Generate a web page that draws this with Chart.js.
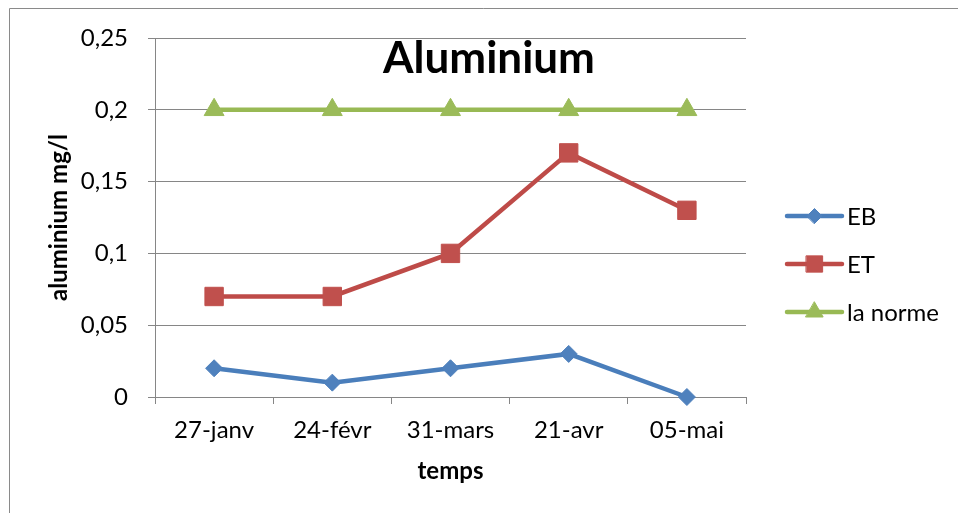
<!DOCTYPE html>
<html>
<head>
<meta charset="utf-8">
<script src="https://cdn.jsdelivr.net/npm/chart.js@4/dist/chart.umd.min.js"></script>
<style>
  html, body { margin: 0; padding: 0; background: #fff; }
  canvas { display: block; }
</style>
</head>
<body>
<canvas id="c" width="958" height="513"></canvas>
<script>
// Sampling dates
const categories = ['27-janv', '24-févr', '31-mars', '21-avr', '05-mai'];
// Aluminium concentrations (mg/l)
const ebValues = [0.02, 0.01, 0.02, 0.03, 0];
const etValues = [0.07, 0.07, 0.10, 0.17, 0.13];
const normeValues = [0.2, 0.2, 0.2, 0.2, 0.2];
// Y axis tick labels (French decimal comma)
const yTickLabels = ['0', '0,05', '0,1', '0,15', '0,2', '0,25'];

const FONT = 'Lato, "Open Sans", sans-serif';
const GRID = '#868686';

const series = [
  { label: 'EB', data: ebValues, line: '#4A7EBB', fill: '#4F81BD', style: 'rectRot', r: 8.5, lr: 7.5 },
  { label: 'ET', data: etValues, line: '#BE4B48', fill: '#C0504D', style: 'rect', r: 13, lr: 11.5 },
  { label: 'la norme', data: normeValues, line: '#98B954', fill: '#9BBB59', style: 'triangle', r: 11.5, lr: 10 }
];

// Outer frame of the chart
const framePlugin = {
  id: 'frame',
  beforeDraw(chart) {
    const ctx = chart.ctx;
    ctx.save();
    ctx.strokeStyle = '#8a8a8a';
    ctx.lineWidth = 1;
    ctx.beginPath();
    ctx.moveTo(9.5, 513);
    ctx.lineTo(9.5, 8.5);
    ctx.lineTo(958, 8.5);
    ctx.stroke();
    ctx.restore();
  }
};

// Chart title drawn over the plot area, plus a line+marker legend on the right
const titleLegendPlugin = {
  id: 'titleLegend',
  afterDraw(chart) {
    const ctx = chart.ctx;
    ctx.save();
    ctx.fillStyle = '#000';
    ctx.font = 'bold 44px ' + FONT;
    ctx.textAlign = 'center';
    ctx.textBaseline = 'alphabetic';
    ctx.fillText('Aluminium', 489, 73);

    const x0 = 787, x1 = 842, xm = 814.5;
    chart.data.datasets.forEach((ds, i) => {
      const y = 216 + i * 48;
      ctx.strokeStyle = ds.borderColor;
      ctx.lineWidth = 4.5;
      ctx.lineCap = 'round';
      ctx.beginPath();
      ctx.moveTo(x0, y);
      ctx.lineTo(x1, y);
      ctx.stroke();
      ctx.fillStyle = ds.pointBackgroundColor;
      ctx.strokeStyle = ds.pointBorderColor;
      ctx.lineWidth = 1;
      Chart.helpers.drawPoint(ctx, { pointStyle: ds.pointStyle, radius: ds.legendRadius, borderWidth: 1, rotation: 0 }, xm, y);
      ctx.fillStyle = '#000';
      ctx.font = '24px ' + FONT;
      ctx.textAlign = 'left';
      ctx.textBaseline = 'middle';
      ctx.fillText(ds.label, 847, y + 1);
    });
    ctx.restore();
  }
};

new Chart(document.getElementById('c'), {
  type: 'line',
  data: {
    labels: categories,
    datasets: series.map(s => ({
      label: s.label,
      data: s.data,
      borderColor: s.line,
      borderWidth: 4.5,
      pointStyle: s.style,
      pointRadius: s.r,
      pointHoverRadius: s.r,
      pointBackgroundColor: s.fill,
      pointBorderColor: s.fill,
      pointBorderWidth: 1,
      legendRadius: s.lr,
      tension: 0,
      fill: false,
      clip: false
    }))
  },
  options: {
    responsive: false,
    animation: false,
    events: [],
    layout: { padding: { left: 0, right: 212, top: 38, bottom: 0 } },
    plugins: {
      legend: { display: false },
      title: { display: false },
      tooltip: { enabled: false }
    },
    scales: {
      x: {
        offset: true,
        grid: { offset: true, drawOnChartArea: false, drawTicks: true, tickLength: 7, color: GRID, lineWidth: 1 },
        border: { color: GRID, width: 1 },
        ticks: { color: '#000', font: { family: FONT, size: 24 }, padding: 12, maxRotation: 0 },
        title: { display: true, text: 'temps', color: '#000', font: { family: FONT, size: 24, weight: 'bold' }, padding: { top: 0, bottom: 27 } },
        afterFit(scale) { scale.height = 116; }
      },
      y: {
        min: 0,
        max: 0.25,
        ticks: {
          stepSize: 0.05,
          color: '#000',
          font: { family: FONT, size: 24 },
          padding: 20,
          callback: (v, i) => yTickLabels[i]
        },
        grid: { color: GRID, lineWidth: 1, tickLength: 7, drawTicks: true },
        border: { color: GRID, width: 1 },
        title: { display: true, text: 'aluminium mg/l', color: '#000', font: { family: FONT, size: 24, weight: 'bold' }, padding: { top: 45, bottom: 0 } },
        afterFit(scale) { scale.width = 155; }
      }
    }
  },
  plugins: [framePlugin, titleLegendPlugin]
});
</script>
</body>
</html>
